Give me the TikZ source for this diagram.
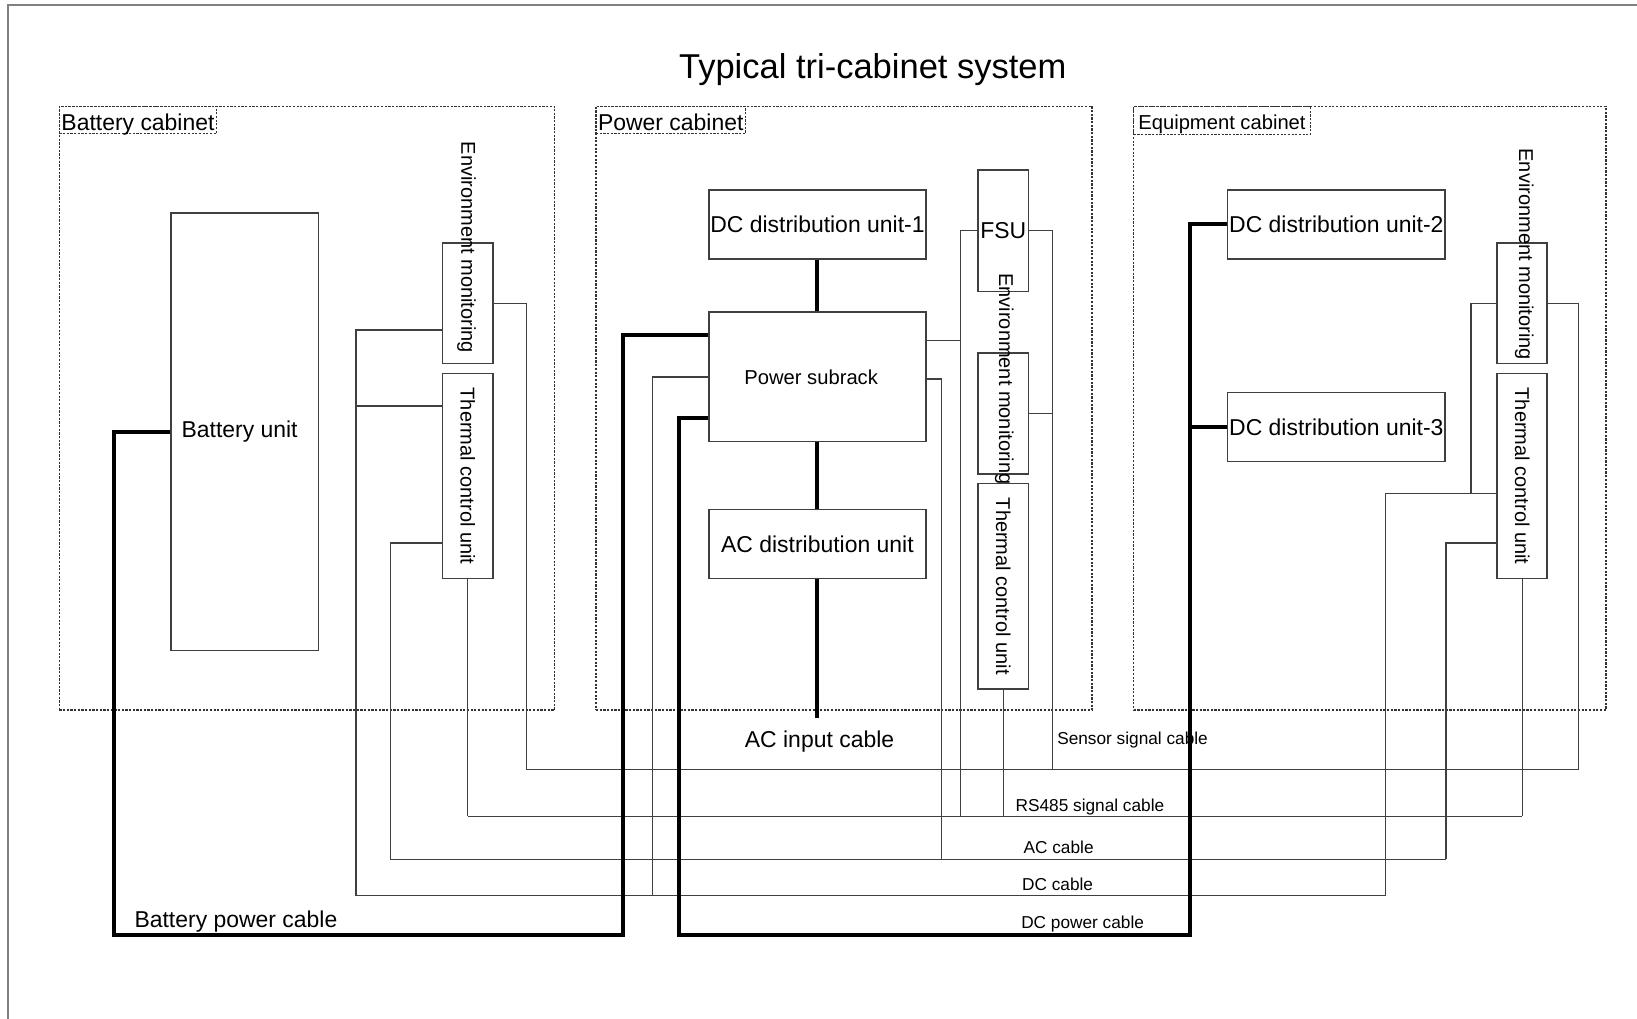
\documentclass[tikz,border=0pt]{standalone}
\usepackage{fontspec}
\setmainfont{Liberation Sans}
\usetikzlibrary{positioning}

\begin{document}
\begin{tikzpicture}[
  x=0.01cm, y=-0.01cm,
  font=\fontsize{6.25pt}{7.5pt}\selectfont,
  cab/.style 2 args={draw=black!80, dash pattern=on 0.6pt off 0.4pt, line width=0.4pt, minimum width=#1, minimum height=#2, inner sep=0pt},
  cabtag/.style={draw=black!80, dash pattern=on 0.6pt off 0.4pt, line width=0.4pt, anchor=north west, text height=0.23cm, text depth=0.03cm, inner xsep=0.02cm, inner ysep=0pt},
  unit/.style 2 args={draw=black!75, line width=0.4pt, minimum width=#1, minimum height=#2, inner sep=0pt, align=center},
  vtxt/.style={font=\fontsize{5.45pt}{6.5pt}\selectfont, inner sep=0pt},
  cbl/.style={font=\fontsize{4.7pt}{5.6pt}\selectfont, inner sep=0pt},
  wire/.style={draw=black!75, line width=0.35pt},
  pwr/.style={draw=black, line width=1.1pt, line join=miter}
]
\useasboundingbox (0,0) rectangle (1568,976);
\draw[black!50, line width=0.6pt] (8,976) -- (8,5) -- (1568,5);

\node[font=\fontsize{9.4pt}{11pt}\selectfont] (title) at (836,67) {Typical tri-cabinet system};

% cabinets
\node[cab={4.74cm}{5.78cm}] (batcab) at (294,391) {};
\node[cab={4.75cm}{5.78cm}] (pwrcab) at (808.5,391) {};
\node[cab={4.52cm}{5.78cm}] (eqcab) at (1312,391) {};
\node[cabtag] (battag) at (batcab.north west) {Battery cabinet};
\node[cabtag] (pwrtag) at (pwrcab.north west) {Power cabinet};
\node[cabtag, font=\fontsize{5.5pt}{6.5pt}\selectfont, inner xsep=0.045cm, text height=0.22cm, text depth=0.05cm] (eqtag) at (eqcab.north west) {Equipment cabinet};

% battery cabinet
\node[unit={1.41cm}{4.19cm}] (bat) at (234.5,413.5) {Battery unit\hspace{0.1cm}};
\node[unit={0.48cm}{1.15cm}] (envA) at (448,290.5) {};
\node[vtxt, rotate=-90] (envAtxt) at (447,237) {Environment monitoring};
\node[unit={0.48cm}{1.96cm}, vtxt] (thmA) at (448,456) {\rotatebox{-90}{Thermal control unit}};

% power cabinet
\node[unit={2.08cm}{0.66cm}] (dc1) at (783,215) {DC distribution unit-1};
\node[unit={2.08cm}{1.24cm}, font=\fontsize{5.5pt}{6.5pt}\selectfont] (ps) at (783,361) {Power subrack\hspace{0.12cm}};
\node[unit={2.08cm}{0.66cm}] (acd) at (783,521) {AC distribution unit};
\node[unit={0.48cm}{1.16cm}] (fsu) at (961,221) {FSU};
\node[unit={0.48cm}{1.16cm}] (envB) at (961,396) {};
\node[vtxt, rotate=-90] (envBtxt) at (962,363) {Environment monitoring};
\node[unit={0.48cm}{1.97cm}, vtxt] (thmB) at (961,561.5) {\rotatebox{-90}{Thermal control unit}};

% equipment cabinet
\node[unit={2.08cm}{0.66cm}] (dc2) at (1280,215) {DC distribution unit-2};
\node[unit={2.08cm}{0.66cm}] (dc3) at (1280,409) {DC distribution unit-3};
\node[unit={0.48cm}{1.15cm}] (envC) at (1458,290.5) {};
\node[vtxt, rotate=-90] (envCtxt) at (1460,243.5) {Environment monitoring};
\node[unit={0.48cm}{1.96cm}, vtxt] (thmC) at (1458,456) {\rotatebox{-90}{Thermal control unit}};

% bus ends and junctions
\coordinate (rs) at (0,782);
\coordinate (snA) at (504,737);  \coordinate (snC) at (1512,737);
\coordinate (acA) at (374,823);  \coordinate (acC) at (1385,823);
\coordinate (dcA) at (341,858);  \coordinate (dcC) at (1327,858);
\coordinate (psdc) at (625,858); \coordinate (psac) at (902,823);
\coordinate (fsurs) at (920,782); \coordinate (fsusn) at (1008,737);
\coordinate (envCj) at (1409,473);
\coordinate (bp1) at (109,896);  \coordinate (bp2) at (597,321);
\coordinate (dp1) at (650,400);  \coordinate (dp2) at (1140,896);
\coordinate (acin) at (783,688);

% signal and ac/dc cables
\draw[wire] (envA.west |- 0,316) -| (dcA);
\draw[wire] (thmA.west |- 0,389) -- (dcA |- 0,389);
\draw[wire] (thmA.west |- 0,520) -| (acA);
\draw[wire] (thmA.south) -- (thmA.south |- rs);
\draw[wire] (envA.east |- 0,291) -| (snA);
\draw[wire] (snA) -- (snC);
\draw[wire] (thmA.south |- rs) -- (thmC.south |- rs);
\draw[wire] (acA) -- (acC);
\draw[wire] (dcA) -- (dcC);
\draw[wire] (ps.west |- 0,361) -| (psdc);
\draw[wire] (ps.east |- 0,326) -- (fsurs |- 0,326);
\draw[wire] (fsu.west) -| (fsurs);
\draw[wire] (ps.east |- 0,363) -| (psac);
\draw[wire] (thmB.south) -- (thmB.south |- rs);
\draw[wire] (fsu.east) -| (fsusn);
\draw[wire] (envB.east) -- (envB.east -| fsusn);
\draw[wire] (envC.east |- 0,291) -| (snC);
\draw[wire] (thmC.south) -- (thmC.south |- rs);
\draw[wire] (thmC.west |- 0,520) -| (acC);
\draw[wire] (thmC.west |- 0,473) -| (dcC);
\draw[wire] (envC.west |- 0,291) -| (envCj);

% power cables
\draw[pwr] (dc1) -- (ps);
\draw[pwr] (ps) -- (acd);
\draw[pwr] (acd) -- (acin);
\draw[pwr] (bat.west) -| (bp1) -| (bp2) -- (ps.west |- bp2);
\draw[pwr] (ps.west |- dp1) -- (dp1) |- (dp2) |- (dc2.west);
\draw[pwr] (dp2 |- dc3.west) -- (dc3.west);

% cable labels
\node (acinlbl) at (785,710) {AC input cable};
\node[inner sep=0pt] (bplbl) at (226,883) {Battery power cable};
\node[cbl, anchor=west] (snlbl) at (1012,709) {Sensor signal cable};
\node[cbl] (rslbl) at (1044,773) {RS485 signal cable};
\node[cbl] (aclbl) at (1014,812) {AC cable};
\node[cbl] (dclbl) at (1013,847) {DC cable};
\node[cbl] (dplbl) at (1037,885) {DC power cable};
\end{tikzpicture}
\end{document}
